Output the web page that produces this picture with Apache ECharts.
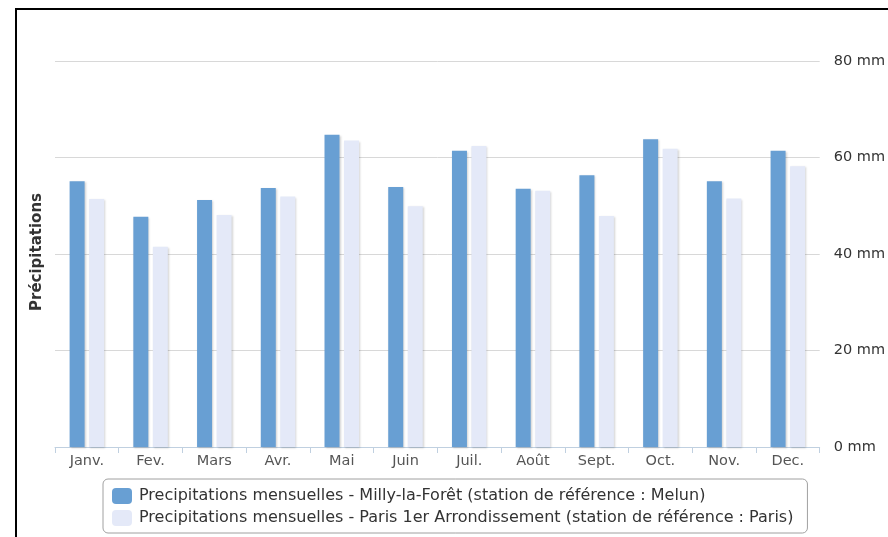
<!DOCTYPE html>
<html>
<head>
<meta charset="utf-8">
<script src="https://cdn.jsdelivr.net/npm/echarts@6/dist/echarts.min.js"></script>
<style>
  html, body { margin: 0; padding: 0; background: #fff; }
  #chart { width: 888px; height: 537px; }
  #frame {
    position: absolute; left: 15px; top: 8px; width: 900px; height: 600px;
    border-left: 2px solid #000; border-top: 2px solid #000; pointer-events: none;
  }
</style>
</head>
<body>
<div id="chart"></div>
<div id="frame"></div>
<script>
// mois
var months = ["Janv.", "Fev.", "Mars", "Avr.", "Mai", "Juin", "Juil.", "Août", "Sept.", "Oct.", "Nov.", "Dec."];
// précipitations mensuelles (mm)
var milly = [55.1, 47.7, 51.2, 53.7, 64.7, 53.9, 61.4, 53.5, 56.3, 63.8, 55.1, 61.4];
var paris = [51.4, 41.5, 48.1, 51.9, 63.5, 49.9, 62.4, 53.1, 47.9, 61.8, 51.5, 58.2];
var seriesNames = [
  "Precipitations mensuelles - Milly-la-Forêt (station de référence : Melun)",
  "Precipitations mensuelles - Paris 1er Arrondissement (station de référence : Paris)"
];

var chart = echarts.init(document.getElementById("chart"));
var font = "DejaVu Sans";
var shadow = {
  shadowColor: "rgba(0,0,0,0.18)",
  shadowOffsetX: 1,
  shadowOffsetY: 1,
  shadowBlur: 2
};

var option = {
  animation: false,
  textStyle: { fontFamily: font },
  grid: { left: 55, right: 66, top: 61, bottom: 90 },
  legend: {
    orient: "vertical",
    left: 103,
    top: 479,
    padding: [9, 14, 7, 9],
    itemGap: 6,
    itemWidth: 20,
    itemHeight: 16,
    borderColor: "#a0a0a0",
    borderWidth: 1,
    borderRadius: 5,
    icon: "roundRect",
    textStyle: { fontSize: 16, color: "#333", fontFamily: font, padding: [0, 0, 0, 2] },
    data: seriesNames
  },
  graphic: [{
    type: "text",
    x: 37,
    y: 252,
    rotation: Math.PI / 2,
    style: {
      text: "Précipitations",
      fontSize: 15,
      fontWeight: "bold",
      fill: "#333",
      fontFamily: font,
      align: "center",
      verticalAlign: "middle"
    }
  }],
  xAxis: {
    type: "category",
    data: months,
    axisLine: { lineStyle: { color: "#c0d0e0" } },
    axisTick: { show: true, length: 6, lineStyle: { color: "#c0d0e0" } },
    axisLabel: { fontSize: 14.5, color: "#555", margin: 7 }
  },
  yAxis: {
    type: "value",
    position: "right",
    min: 0,
    max: 80,
    interval: 20,
    axisLine: { show: false },
    axisTick: { show: false },
    axisLabel: { formatter: "{value} mm", fontSize: 14.5, color: "#333", margin: 14 },
    splitLine: { lineStyle: { color: "#d8d8d8", width: 1 } }
  },
  series: [
    {
      name: seriesNames[0],
      type: "bar",
      data: milly,
      barWidth: 15,
      barGap: "30%",
      itemStyle: Object.assign({ color: "#689fd3" }, shadow)
    },
    {
      name: seriesNames[1],
      type: "bar",
      data: paris,
      barWidth: 15,
      itemStyle: Object.assign({ color: "#e4e9f8" }, shadow)
    }
  ]
};
chart.setOption(option);
</script>
</body>
</html>
